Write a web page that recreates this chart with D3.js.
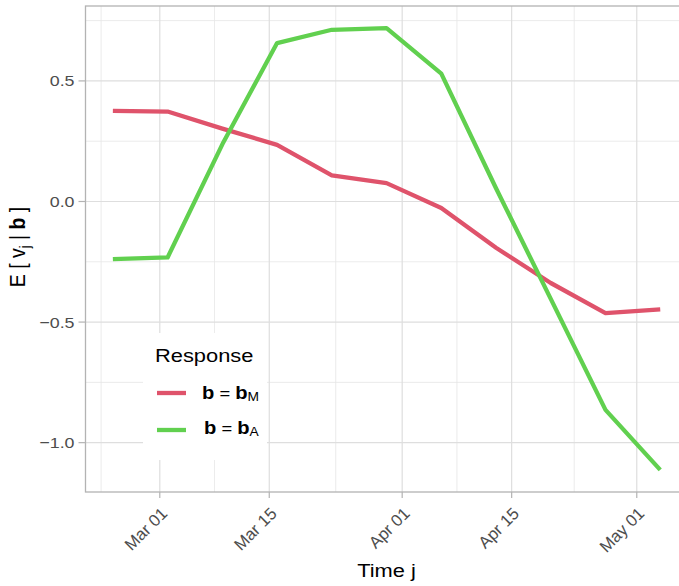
<!DOCTYPE html>
<html>
<head>
<meta charset="utf-8">
<script src="https://cdn.jsdelivr.net/npm/d3@7"></script>
<style>
  body { margin: 0; background: #fff; }
  text { font-family: "Liberation Sans", Arial, sans-serif; }
</style>
</head>
<body>
<div id="chart"></div>
<script>
// weekly observation dates
const dates = ["2020-02-24", "2020-03-02", "2020-03-09", "2020-03-16", "2020-03-23", "2020-03-30",
               "2020-04-06", "2020-04-13", "2020-04-20", "2020-04-27", "2020-05-04"];
// E[v_j | b] for b = b_M and b = b_A
const valuesM = [0.376, 0.373, 0.302, 0.235, 0.108, 0.076, -0.027, -0.192, -0.338, -0.463, -0.447];
const valuesA = [-0.239, -0.232, 0.237, 0.657, 0.712, 0.719, 0.530, 0.055, -0.404, -0.864, -1.113];
const seriesNames = ["M", "A"];
const seriesColors = ["#DF536B", "#61D04F"];
// axis breaks
const xBreaks = ["2020-02-15", "2020-03-01", "2020-03-15", "2020-04-01", "2020-04-15", "2020-05-01", "2020-05-15"];
const xTickLabels = ["Mar 01", "Mar 15", "Apr 01", "Apr 15", "May 01"];
const yTicks = [-1.0, -0.5, 0.0, 0.5];
const yMinorTicks = [-0.75, -0.25, 0.25, 0.75];

const width = 679, height = 586;
const panel = { left: 85.5, right: 687.6, top: 6, bottom: 492 };
const sx = 1.15; // titles in the picture are horizontally stretched

const parse = d3.timeParse("%Y-%m-%d");
const fmt = d3.timeFormat("%b %d");

const data = dates.map((d, i) => ({ date: parse(d), M: valuesM[i], A: valuesA[i] }));
const allVals = valuesM.concat(valuesA);

const xExt = d3.extent(data, d => d.date);
const xPad = (xExt[1] - xExt[0]) * 0.05;
const x = d3.scaleTime()
  .domain([new Date(+xExt[0] - xPad), new Date(+xExt[1] + xPad)])
  .range([panel.left, panel.right]);

const yExt = d3.extent(allVals);
const yPad = (yExt[1] - yExt[0]) * 0.05;
const y = d3.scaleLinear()
  .domain([yExt[0] - yPad, yExt[1] + yPad])
  .range([panel.bottom, panel.top]);

const svg = d3.select("#chart").append("svg")
  .attr("width", width)
  .attr("height", height);

svg.append("defs").append("clipPath").attr("id", "clip")
  .append("rect")
  .attr("x", panel.left).attr("y", panel.top)
  .attr("width", panel.right - panel.left).attr("height", panel.bottom - panel.top);

const plot = svg.append("g").attr("clip-path", "url(#clip)");

// minor grid
const majorDates = xBreaks.map(parse);
const minorDates = d3.pairs(majorDates).map(([a, b]) => new Date((+a + +b) / 2));
plot.selectAll(".xminor").data(minorDates).enter().append("line")
  .attr("x1", d => x(d)).attr("x2", d => x(d))
  .attr("y1", panel.top).attr("y2", panel.bottom)
  .attr("stroke", "#E6E6E6").attr("stroke-width", 0.8);
plot.selectAll(".yminor").data(yMinorTicks).enter().append("line")
  .attr("x1", panel.left).attr("x2", panel.right)
  .attr("y1", d => y(d)).attr("y2", d => y(d))
  .attr("stroke", "#E6E6E6").attr("stroke-width", 0.8);

// major grid
plot.selectAll(".xmajor").data(majorDates).enter().append("line")
  .attr("x1", d => x(d)).attr("x2", d => x(d))
  .attr("y1", panel.top).attr("y2", panel.bottom)
  .attr("stroke", "#DEDEDE").attr("stroke-width", 1.2);
plot.selectAll(".ymajor").data(yTicks).enter().append("line")
  .attr("x1", panel.left).attr("x2", panel.right)
  .attr("y1", d => y(d)).attr("y2", d => y(d))
  .attr("stroke", "#DEDEDE").attr("stroke-width", 1.2);

// series lines
seriesNames.forEach((key, i) => {
  const line = d3.line()
    .x(d => x(d.date))
    .y(d => y(d[key]));
  plot.append("path")
    .datum(data)
    .attr("fill", "none")
    .attr("stroke", seriesColors[i])
    .attr("stroke-width", 4.3)
    .attr("stroke-linejoin", "round")
    .attr("d", line);
});

// panel border
svg.append("rect")
  .attr("x", panel.left).attr("y", panel.top)
  .attr("width", panel.right - panel.left).attr("height", panel.bottom - panel.top)
  .attr("fill", "none").attr("stroke", "#B3B3B3").attr("stroke-width", 1.3);

// y axis
const yAxis = svg.append("g");
yAxis.selectAll("line").data(yTicks).enter().append("line")
  .attr("x1", panel.left - 7).attr("x2", panel.left)
  .attr("y1", d => y(d)).attr("y2", d => y(d))
  .attr("stroke", "#B3B3B3").attr("stroke-width", 1.2);
yAxis.selectAll("text").data(yTicks).enter().append("text")
  .attr("transform", d => `translate(${panel.left - 11},${y(d)}) scale(${sx},1)`)
  .attr("text-anchor", "end")
  .attr("dy", "0.36em")
  .attr("font-size", 15.5)
  .attr("fill", "#4D4D4D")
  .text(d => d3.format(".1f")(d));

// x axis
const tickDates = majorDates.filter(d => xTickLabels.includes(fmt(d)));
const xAxis = svg.append("g");
xAxis.selectAll("line").data(tickDates).enter().append("line")
  .attr("x1", d => x(d)).attr("x2", d => x(d))
  .attr("y1", panel.bottom).attr("y2", panel.bottom + 6)
  .attr("stroke", "#B3B3B3").attr("stroke-width", 1.2);
xAxis.selectAll("text").data(tickDates).enter().append("text")
  .attr("transform", d => `translate(${x(d)},${panel.bottom + 14}) rotate(-45)`)
  .attr("text-anchor", "end")
  .attr("dy", "0.72em")
  .attr("font-size", 16.8)
  .attr("fill", "#4D4D4D")
  .text(d => fmt(d));

// axis titles
svg.append("text")
  .attr("transform", `translate(${(panel.left + panel.right) / 2},577) scale(${sx},1)`)
  .attr("text-anchor", "middle")
  .attr("font-size", 19)
  .attr("fill", "#000")
  .text("Time j");

const yTitle = svg.append("text")
  .attr("transform", `translate(25,${(panel.top + panel.bottom) / 2 - 2}) scale(${sx},1) rotate(-90)`)
  .attr("text-anchor", "middle")
  .attr("font-size", 19.5)
  .attr("fill", "#000");
yTitle.append("tspan").text("E [ v");
yTitle.append("tspan").attr("font-size", 13).attr("dy", 4).text("j");
yTitle.append("tspan").attr("dy", -4).text(" | ");
yTitle.append("tspan").attr("font-weight", "bold").text("b");
yTitle.append("tspan").text(" ]");

// legend
const legend = svg.append("g");
legend.append("rect")
  .attr("x", 143).attr("y", 333).attr("width", 124).attr("height", 127)
  .attr("fill", "#fff");
legend.append("text")
  .attr("transform", `translate(155,362) scale(${sx},1)`)
  .attr("font-size", 19)
  .attr("fill", "#000")
  .text("Response");
const legendRowY = [393, 430];
seriesNames.forEach((key, i) => {
  legend.append("line")
    .attr("x1", 157).attr("x2", 186)
    .attr("y1", legendRowY[i]).attr("y2", legendRowY[i])
    .attr("stroke", seriesColors[i]).attr("stroke-width", 4.3);
  const t = legend.append("text")
    .attr("transform", `translate(${202 + i * 2},${legendRowY[i] + 6 - i * 2}) scale(${sx},1)`)
    .attr("font-size", 17.5)
    .attr("fill", "#000");
  t.append("tspan").attr("font-weight", "bold").text("b");
  t.append("tspan").attr("font-size", 16).text(" = ");
  t.append("tspan").attr("font-weight", "bold").text("b");
  t.append("tspan").attr("font-size", 12).attr("dy", 2).text(key);
});
</script>
</body>
</html>
